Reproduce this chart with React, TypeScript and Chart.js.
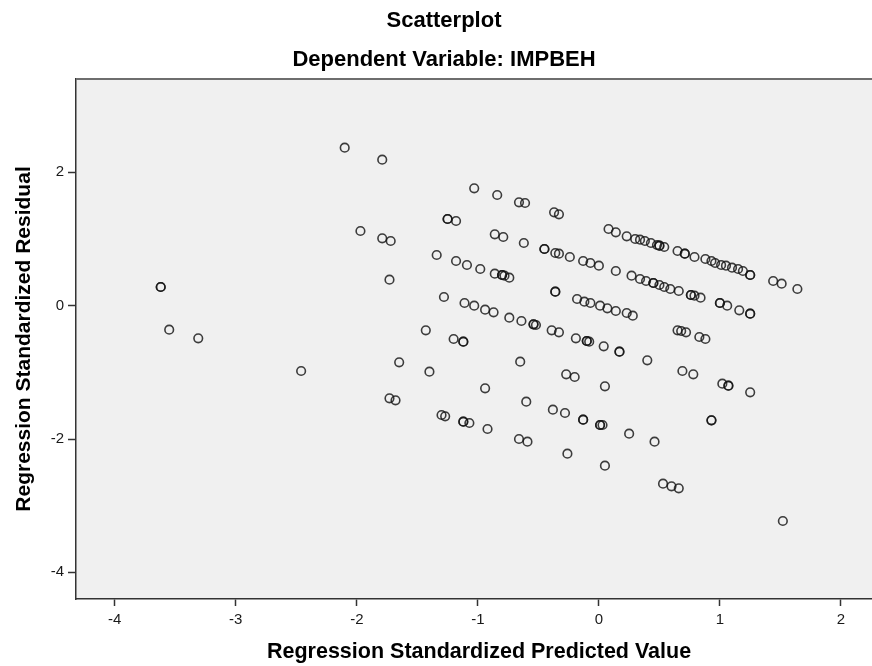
import React, { useEffect, useRef } from "react";
import { Chart, registerables } from "chart.js";

Chart.register(...registerables);

const chartTitle = "Scatterplot";
const chartSubtitle = "Dependent Variable: IMPBEH";
const xAxisTitle = "Regression Standardized Predicted Value";
const yAxisTitle = "Regression Standardized Residual";

const xTickValues = [-4, -3, -2, -1, 0, 1, 2];
const yTickValues = [-4, -2, 0, 2];

// Regression standardized predicted values (x)
const predicted = [
  -3.62, -3.62, -3.55, -3.31, -2.46, -2.1, -1.79, -1.97, -1.79, -1.72,
  -1.73, -1.65, -1.73, -1.68, -1.4, -1.43, -1.34, -1.28, -1.3, -1.27,
  -1.25, -1.25, -1.18, -1.18, -1.09, -0.98, -1.2, -1.12, -1.12, -1.12,
  -1.12, -1.07, -1.11, -1.03, -0.94, -0.87, -1.03, -0.84, -0.66, -0.61,
  -0.37, -0.33, -0.86, -0.79, -0.62, -0.45, -0.45, -0.36, -0.33, -0.24,
  -0.13, -0.07, 0.0, -0.86, -0.8, -0.8, -0.78, -0.74, -0.36, -0.36,
  -0.18, -0.12, -0.07, 0.01, 0.07, 0.14, 0.23, 0.28, -0.74, -0.64,
  -0.54, -0.54, -0.52, -0.39, -0.33, -0.19, -0.1, -0.1, -0.08, 0.04,
  0.17, 0.17, 0.4, -0.65, -0.27, -0.2, 0.69, 0.78, 1.02, 1.07,
  1.07, 1.25, -0.94, 0.05, -0.6, -0.92, -0.38, -0.28, -0.13, -0.13,
  0.01, 0.01, 0.03, 0.25, 0.46, 0.93, 0.93, -0.66, -0.59, -0.26,
  0.05, 0.53, 0.6, 0.66, 1.52, 0.08, 0.14, 0.23, 0.3, 0.34,
  0.38, 0.43, 0.48, 0.5, 0.5, 0.54, 0.65, 0.71, 0.71, 0.79,
  0.88, 0.93, 0.96, 1.01, 1.05, 1.1, 1.15, 1.19, 1.25, 1.25,
  1.44, 1.51, 1.64, 0.14, 0.27, 0.34, 0.39, 0.45, 0.45, 0.5,
  0.54, 0.59, 0.66, 0.76, 0.76, 0.79, 0.84, 1.0, 1.0, 1.06,
  1.16, 1.25, 1.25, 0.65, 0.68, 0.72, 0.83, 0.88,
];

// Regression standardized residuals (y)
const residual = [
  0.28, 0.28, -0.36, -0.49, -0.98, 2.37, 2.19, 1.12, 1.01, 0.97,
  0.39, -0.85, -1.39, -1.42, -0.99, -0.37, 0.76, 0.13, -1.64, -1.66,
  1.3, 1.3, 1.27, 0.67, 0.61, 0.55, -0.5, -0.54, -0.54, -1.74,
  -1.74, -1.76, 0.04, 0.0, -0.06, -0.1, 1.76, 1.66, 1.55, 1.54,
  1.4, 1.37, 1.07, 1.03, 0.94, 0.85, 0.85, 0.79, 0.78, 0.73,
  0.67, 0.64, 0.6, 0.48, 0.46, 0.46, 0.45, 0.42, 0.21, 0.21,
  0.1, 0.06, 0.04, 0.0, -0.04, -0.08, -0.11, -0.15, -0.18, -0.23,
  -0.28, -0.28, -0.29, -0.37, -0.4, -0.49, -0.53, -0.53, -0.54, -0.61,
  -0.69, -0.69, -0.82, -0.84, -1.03, -1.07, -0.98, -1.03, -1.17, -1.2,
  -1.2, -1.3, -1.24, -1.21, -1.44, -1.85, -1.56, -1.61, -1.71, -1.71,
  -1.79, -1.79, -1.79, -1.92, -2.04, -1.72, -1.72, -2.0, -2.04, -2.22,
  -2.4, -2.67, -2.71, -2.74, -3.23, 1.15, 1.1, 1.04, 1.0, 0.99,
  0.97, 0.94, 0.91, 0.9, 0.9, 0.88, 0.82, 0.78, 0.78, 0.73,
  0.7, 0.67, 0.64, 0.61, 0.6, 0.57, 0.55, 0.52, 0.46, 0.46,
  0.37, 0.33, 0.25, 0.52, 0.45, 0.4, 0.37, 0.34, 0.34, 0.31,
  0.28, 0.25, 0.22, 0.16, 0.16, 0.15, 0.12, 0.04, 0.04, 0.0,
  -0.07, -0.12, -0.12, -0.37, -0.38, -0.4, -0.47, -0.5,
];

const FONT = "'Liberation Sans', Arial, Helvetica, sans-serif";

export default function App() {
  const canvasRef = useRef<HTMLCanvasElement>(null);

  useEffect(() => {
    const canvas = canvasRef.current;
    if (!canvas) return;
    const points = predicted.map((x, i) => ({ x, y: residual[i] }));

    const plotFrame = {
      id: "plotFrame",
      beforeDraw(chart: any) {
        const { ctx, chartArea: a } = chart;
        ctx.save();
        ctx.fillStyle = "#ffffff";
        ctx.fillRect(0, 0, chart.width, chart.height);
        ctx.fillStyle = "#f0f0f0";
        ctx.fillRect(a.left, a.top, a.right - a.left, a.bottom - a.top);
        ctx.restore();
      },
      afterDraw(chart: any) {
        const { ctx, chartArea: a } = chart;
        ctx.save();
        ctx.strokeStyle = "#6e6e6e";
        ctx.lineWidth = 2;
        ctx.beginPath();
        ctx.moveTo(a.left, a.top);
        ctx.lineTo(a.right, a.top);
        ctx.lineTo(a.right, a.bottom);
        ctx.stroke();
        ctx.restore();
      },
    };

    const chart = new Chart(canvas, {
      type: "scatter",
      data: {
        datasets: [
          {
            data: points,
            pointStyle: "circle",
            pointRadius: 4.3,
            pointBorderWidth: 1.6,
            pointBorderColor: "rgba(20,20,20,0.82)",
            pointBackgroundColor: "rgba(0,0,0,0)",
          },
        ],
      },
      options: {
        responsive: false,
        animation: false,
        devicePixelRatio: 1,
        layout: { padding: 0 },
        plugins: {
          legend: { display: false },
          tooltip: { enabled: false },
          title: {
            display: true,
            text: chartTitle,
            color: "#000",
            font: { family: FONT, size: 22, weight: "bold", lineHeight: 1.2 },
            padding: { top: 8, bottom: 6 },
          },
          subtitle: {
            display: true,
            text: chartSubtitle,
            color: "#000",
            font: { family: FONT, size: 22, weight: "bold", lineHeight: 1.2 },
            padding: { top: 6, bottom: 6.2 },
          },
        },
        scales: {
          x: {
            type: "linear",
            min: -4.32,
            max: 2.34,
            afterBuildTicks: (scale: any) => {
              scale.ticks = xTickValues.map((v) => ({ value: v }));
            },
            afterFit: (scale: any) => {
              scale.height = 67;
            },
            ticks: {
              color: "#1a1a1a",
              font: { family: FONT, size: 15 },
              padding: 5,
              maxRotation: 0,
              autoSkip: false,
              callback: (v: any) => String(v),
            },
            grid: {
              drawOnChartArea: false,
              drawTicks: true,
              tickLength: 7,
              tickColor: "#333",
              tickWidth: 1.5,
            },
            border: { display: true, color: "#333", width: 1.5 },
            title: {
              display: true,
              text: xAxisTitle,
              color: "#000",
              font: { family: FONT, size: 21.5, weight: "bold", lineHeight: 1.2 },
              padding: { top: 0, bottom: 1 },
            },
          },
          y: {
            type: "linear",
            min: -4.4,
            max: 3.4,
            afterBuildTicks: (scale: any) => {
              scale.ticks = yTickValues.map((v) => ({ value: v }));
            },
            afterFit: (scale: any) => {
              scale.width = 76;
            },
            ticks: {
              color: "#1a1a1a",
              font: { family: FONT, size: 15 },
              padding: 4,
              autoSkip: false,
              callback: (v: any) => String(v),
            },
            grid: {
              drawOnChartArea: false,
              drawTicks: true,
              tickLength: 8,
              tickColor: "#333",
              tickWidth: 1.5,
            },
            border: { display: true, color: "#333", width: 1.5 },
            title: {
              display: true,
              text: yAxisTitle,
              color: "#000",
              font: { family: FONT, size: 21, weight: "bold", lineHeight: 1.2 },
              padding: { top: 12, bottom: 0 },
            },
          },
        },
      },
      plugins: [plotFrame],
    });

    return () => chart.destroy();
  }, []);

  return (
    <div
      style={{
        position: "absolute",
        left: 0,
        top: 0,
        width: 872,
        height: 666,
        overflow: "hidden",
        background: "#fff",
      }}
    >
      <canvas
        ref={canvasRef}
        width={888}
        height={666}
        style={{ display: "block", width: 888, height: 666 }}
      />
    </div>
  );
}
